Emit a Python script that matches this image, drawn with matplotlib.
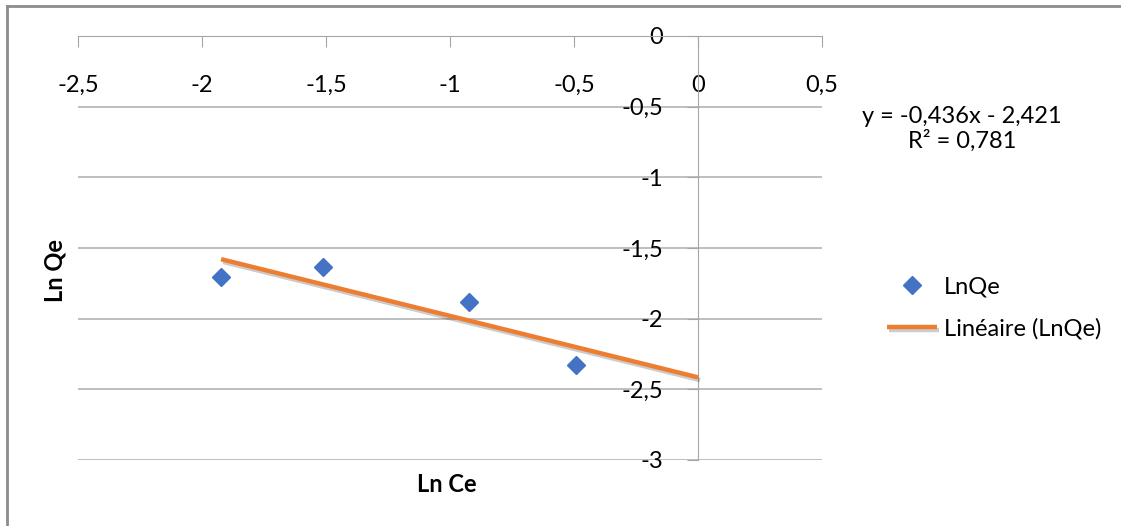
import numpy as np
import matplotlib
matplotlib.use('Agg')
import matplotlib.pyplot as plt
import matplotlib.patheffects as pe
from matplotlib.ticker import FuncFormatter
from matplotlib.lines import Line2D

# data
ln_ce = [-1.923, -1.512, -0.923, -0.492]
ln_qe = [-1.706, -1.635, -1.883, -2.328]
x_ticks = [-2.5, -2, -1.5, -1, -0.5, 0, 0.5]
y_ticks = [0, -0.5, -1, -1.5, -2, -2.5, -3]
eq_text = 'y = -0,436x - 2,421\nR\u00b2 = 0,781'

plt.rcParams['font.family'] = ['Lato', 'DejaVu Sans']
fs = 17
axis_col = '#a6a6a6'

fig = plt.figure(figsize=(11.21, 5.26), dpi=100)
ax = fig.add_axes([78/1121, 1-460/526, 744/1121, 424/526])

# outer chart border (top and left visible)
fig.add_artist(Line2D([7/1121, 1], [1-6/526, 1-6/526], color='#8c8c8c', lw=2))
fig.add_artist(Line2D([7/1121, 7/1121], [0, 1-6/526], color='#8c8c8c', lw=2))

ax.set_xlim(-2.5, 0.5)
ax.set_ylim(-3, 0)

comma = FuncFormatter(lambda v, p: '{:g}'.format(v).replace('.', ','))
ax.set_xticks(x_ticks)
ax.set_yticks(y_ticks)
ax.xaxis.set_major_formatter(comma)
ax.yaxis.set_major_formatter(comma)

for s in ['top', 'right']:
    ax.spines[s].set_visible(False)
ax.spines['left'].set_position(('data', 0))
ax.spines['bottom'].set_position(('data', 0))
ax.spines['left'].set_color(axis_col)
ax.spines['bottom'].set_color(axis_col)
ax.spines['left'].set_zorder(1)
ax.spines['bottom'].set_zorder(1)

ax.tick_params(axis='x', direction='out', length=8, color=axis_col, pad=20, labelsize=fs)
ax.tick_params(axis='y', direction='out', length=8, color=axis_col, pad=17, labelsize=fs)
ax.yaxis.grid(True, color='#b4b4b4', lw=1.2, zorder=0)
ax.set_axisbelow(True)

ax.plot(ln_ce, ln_qe, linestyle='none', marker='D', ms=9.5, color='#4472c4',
        label='LnQe', zorder=3)

# linear trendline
slope, icpt = np.polyfit(ln_ce, ln_qe, 1)
xt = np.array([min(ln_ce), 0])
ax.plot(xt, slope*xt + icpt, color='#ed7d31', lw=3.2, solid_capstyle='butt',
        label='Lin\u00e9aire (LnQe)', zorder=4,
        path_effects=[pe.SimpleLineShadow(offset=(1.5, -2), shadow_color='black', alpha=0.2),
                      pe.Normal()])

fig.text(962/1121, 1-129/526, eq_text, ha='center', va='center', ma='center',
         fontsize=fs, linespacing=1.15)

fig.text(55/1121, 1-270/526, 'Ln Qe', rotation=90, ha='center', va='center',
         fontsize=fs, fontweight='bold')
fig.text(447/1121, 1-484/526, 'Ln Ce', ha='center', va='center',
         fontsize=fs, fontweight='bold')

leg = fig.legend(loc='center left', bbox_to_anchor=(866/1121, 1-308/526), frameon=False,
                 fontsize=fs, handlelength=2.1, handletextpad=0.3, labelspacing=0.85)

fig.savefig('out.png', dpi=100)
